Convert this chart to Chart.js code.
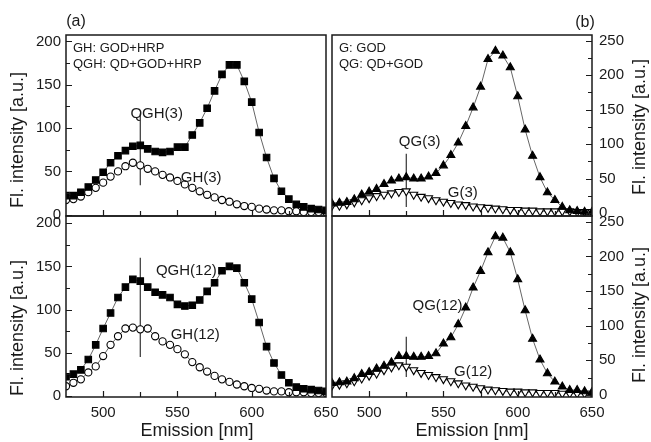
<!DOCTYPE html>
<html>
<head>
<meta charset="utf-8">
<script src="https://cdn.jsdelivr.net/npm/chart.js@4.4.1/dist/chart.umd.min.js"></script>
<style>
  html, body { margin: 0; padding: 0; background: #fff; }
  #wrap { position: relative; width: 651px; height: 442px; }
  #wrap canvas { position: absolute; left: 0; top: 0; }
</style>
</head>
<body>
<div id="wrap">
  <canvas id="topA" width="651" height="442"></canvas>
  <canvas id="topB" width="651" height="442"></canvas>
  <canvas id="botA" width="651" height="442"></canvas>
  <canvas id="botB" width="651" height="442"></canvas>
</div>
<script>
// emission wavelengths (nm)
const wavelengths = [475, 480, 485, 490, 495, 500, 505, 510, 515, 520, 525, 530,
  535, 540, 545, 550, 555, 560, 565, 570, 575, 580, 585, 590,
  595, 600, 605, 610, 615, 620, 625, 630, 635, 640, 645, 650];

// (a) GOD+HRP, 3 and 12
const qgh3 = [22, 22, 26, 32, 40, 49, 60, 68, 74, 79, 80, 76,
  73, 72, 73, 78, 78, 92, 106, 123, 143, 162, 173, 173,
  154, 130, 95, 66, 42, 27, 18, 12, 9, 7, 6, 5];
const gh3 = [17, 18, 21, 26, 31, 37, 44, 50, 56, 60, 57, 53,
  50, 46, 43, 39, 35, 31, 27, 23, 20, 17, 15, 12,
  10, 9, 7, 6, 5, 5, 4, 4, 3, 3, 3, 3];
const qgh12 = [22, 25, 30, 42, 59, 78, 96, 114, 126, 135, 133, 126,
  120, 117, 114, 106, 104, 105, 111, 121, 131, 145, 150, 148,
  131, 112, 85, 57, 38, 24, 15, 10, 8, 7, 6, 5];
const gh12 = [11, 15, 19, 27, 34, 46, 59, 69, 78, 79, 77, 78,
  69, 63, 59, 54, 48, 39, 33, 28, 23, 19, 16, 13,
  11, 9, 8, 6, 5, 5, 4, 4, 4, 3, 3, 3];

// (b) GOD, 3 and 12
const qg3 = [14, 15, 16, 20, 27, 31, 35, 42, 47, 50, 52, 50,
  50, 53, 58, 69, 84, 102, 126, 153, 183, 223, 235, 228,
  211, 169, 121, 83, 52, 30, 19, 9, 4, 3, 2, 2];
const g3 = [11, 11, 13, 16, 19, 22, 25, 27, 29, 31, 32, 27,
  24, 22, 19, 17, 15, 13, 12, 10, 9, 8, 7, 6,
  5, 5, 4, 4, 3, 3, 3, 3, 3, 2, 2, 2];
const qg12 = [17, 18, 19, 24, 30, 33, 38, 42, 47, 56, 56, 55,
  55, 56, 60, 74, 83, 102, 126, 155, 179, 206, 229, 227,
  206, 167, 122, 81, 51, 31, 19, 12, 7, 7, 5, 4];
const g12 = [14, 15, 17, 20, 24, 28, 31, 36, 40, 43, 41, 36,
  32, 29, 26, 23, 20, 17, 14, 12, 10, 8, 7, 6,
  5, 5, 4, 4, 3, 3, 3, 2, 2, 2, 2, 2];

// axis ticks
const xTickLabels = [500, 550, 600, 650];
const xTickMarks = [500, 525, 550, 575, 600, 625];
const yTicksA = [0, 50, 100, 150, 200];
const yTicksB = [0, 50, 100, 150, 200, 250];
const yMarksA = [0, 25, 50, 75, 100, 125, 150, 175, 200];
const yMarksB = [0, 25, 50, 75, 100, 125, 150, 175, 200, 225, 250];

const FONT = "'Liberation Sans', Arial, sans-serif";
const INK = '#1a1a1a';
const W = 651, H = 442;

function pts(ys) {
  return wavelengths.map((x, i) => ({ x: x, y: ys[i] }));
}

function series(ys, style, filled, rotation) {
  return {
    data: pts(ys),
    showLine: true,
    borderColor: '#666',
    borderWidth: 1,
    pointStyle: style,
    pointRotation: rotation || 0,
    pointRadius: style === 'rect' ? 4.6 : (style === 'circle' ? 3.6 : 4.6),
    pointBorderWidth: 1.1,
    pointBorderColor: '#000',
    pointBackgroundColor: filled ? '#000' : '#fff'
  };
}

function marker(y0, y1) {
  return {
    data: [{ x: 525, y: y0 }, { x: 525, y: y1 }],
    showLine: true,
    borderColor: '#333',
    borderWidth: 1.2,
    pointRadius: 0
  };
}

// frame, inward ticks and text for one panel
const panelDecor = {
  id: 'panelDecor',
  afterDatasetsDraw(chart, args, o) {
    const { ctx, chartArea: a, scales: { x, y } } = chart;
    ctx.save();
    ctx.strokeStyle = INK;
    ctx.lineWidth = 1.2;
    ctx.beginPath();
    xTickMarks.forEach(v => {
      const px = Math.round(x.getPixelForValue(v)) + 0.5;
      const len = v % 50 === 0 ? 6 : 5;
      ctx.moveTo(px, a.bottom);
      ctx.lineTo(px, a.bottom - len);
    });
    o.yMarks.forEach(v => {
      const py = Math.round(y.getPixelForValue(v)) + 0.5;
      const len = v % 50 === 0 ? 6 : 4;
      if (o.side === 'left') {
        ctx.moveTo(a.left, py);
        ctx.lineTo(a.left + len, py);
      } else {
        ctx.moveTo(a.right, py);
        ctx.lineTo(a.right - len, py);
      }
    });
    ctx.stroke();

    ctx.lineWidth = 1.5;
    ctx.strokeRect(a.left, a.top, a.right - a.left, a.bottom - a.top);

    ctx.fillStyle = INK;
    ctx.textBaseline = 'middle';
    ctx.textAlign = 'center';
    ctx.font = '15px ' + FONT;
    o.notes.forEach(n => {
      ctx.fillText(n.text, x.getPixelForValue(n.x), y.getPixelForValue(n.y));
    });

    ctx.textAlign = 'left';
    ctx.font = '13px ' + FONT;
    o.legend.forEach((t, i) => {
      ctx.fillText(t, a.left + 7, a.top + 13 + i * 16);
    });

    if (o.tag) {
      ctx.font = '16px ' + FONT;
      ctx.textAlign = 'center';
      ctx.fillText(o.tag.text, o.tag.px, o.tag.py);
    }

    ctx.font = '18px ' + FONT;
    ctx.textAlign = 'center';
    ctx.save();
    ctx.translate(o.yTitle.px, o.yTitle.py);
    ctx.rotate(-Math.PI / 2);
    ctx.fillText('Fl. intensity [a.u.]', 0, 0);
    ctx.restore();
    if (o.xTitle) {
      ctx.fillText('Emission [nm]', o.xTitle.px, o.xTitle.py);
    }
    ctx.restore();
  }
};

function makePanel(id, p) {
  const [left, right, top, bottom] = p.box;
  const side = p.decor.side;
  // the axis boxes fill the margins so their labels are not clipped
  const yWidth = side === 'left' ? left : W - right;
  const ctx = document.getElementById(id).getContext('2d');
  return new Chart(ctx, {
    type: 'scatter',
    data: { datasets: p.datasets },
    options: {
      responsive: false,
      animation: false,
      events: [],
      layout: {
        padding: {
          left: side === 'left' ? 0 : left,
          right: side === 'left' ? W - right : 0,
          top: top,
          bottom: 0
        }
      },
      plugins: {
        legend: { display: false },
        tooltip: { enabled: false },
        panelDecor: p.decor
      },
      scales: {
        x: {
          type: 'linear',
          min: 475,
          max: 650,
          grid: { display: false, drawTicks: false },
          border: { display: false },
          afterFit: s => { s.height = H - bottom; },
          afterBuildTicks: s => { s.ticks = xTickLabels.map(v => ({ value: v })); },
          ticks: {
            display: p.xLabels,
            padding: 7,
            maxRotation: 0,
            autoSkip: false,
            color: INK,
            font: { family: FONT, size: 15 }
          }
        },
        y: {
          type: 'linear',
          position: side,
          min: p.yRange[0],
          max: p.yRange[1],
          grid: { display: false, drawTicks: false },
          border: { display: false },
          afterFit: s => { s.width = yWidth; },
          afterBuildTicks: s => { s.ticks = p.yTicks.map(v => ({ value: v })); },
          ticks: {
            padding: side === 'left' ? 5 : 7,
            autoSkip: false,
            color: INK,
            font: { family: FONT, size: 15 }
          }
        }
      }
    },
    plugins: [panelDecor]
  });
}

makePanel('topA', {
  box: [66, 326, 35, 216],
  yRange: [-1.5, 207.5],
  yTicks: yTicksA,
  xLabels: false,
  datasets: [series(qgh3, 'rect', true), series(gh3, 'circle', false), marker(34, 117)],
  decor: {
    side: 'left',
    yMarks: yMarksA,
    notes: [{ text: 'QGH(3)', x: 536, y: 116 }, { text: 'GH(3)', x: 566, y: 43 }],
    legend: ['GH: GOD+HRP', 'QGH: QD+GOD+HRP'],
    tag: { text: '(a)', px: 76, py: 22 },
    yTitle: { px: 18, py: 140 }
  }
});

makePanel('topB', {
  box: [332, 592, 35, 216],
  yRange: [-4, 258],
  yTicks: yTicksB,
  xLabels: false,
  datasets: [series(qg3, 'triangle', true), series(g3, 'triangle', false, 180), marker(9, 86)],
  decor: {
    side: 'right',
    yMarks: yMarksB,
    notes: [{ text: 'QG(3)', x: 534, y: 104 }, { text: 'G(3)', x: 563, y: 30 }],
    legend: ['G: GOD', 'QG: QD+GOD'],
    tag: { text: '(b)', px: 585, py: 23 },
    yTitle: { px: 640, py: 127 }
  }
});

makePanel('botA', {
  box: [66, 326, 216, 397],
  yRange: [-1.5, 208.5],
  yTicks: yTicksA,
  xLabels: true,
  datasets: [series(qgh12, 'rect', true), series(gh12, 'circle', false), marker(45, 160)],
  decor: {
    side: 'left',
    yMarks: yMarksA,
    notes: [{ text: 'QGH(12)', x: 556, y: 145 }, { text: 'GH(12)', x: 562, y: 71 }],
    legend: [],
    yTitle: { px: 18, py: 328 },
    xTitle: { px: 197, py: 431 }
  }
});

makePanel('botB', {
  box: [332, 592, 216, 397],
  yRange: [-3, 258.5],
  yTicks: yTicksB,
  xLabels: true,
  datasets: [series(qg12, 'triangle', true), series(g12, 'triangle', false, 180), marker(26, 84)],
  decor: {
    side: 'right',
    yMarks: yMarksB,
    notes: [{ text: 'QG(12)', x: 546, y: 128 }, { text: 'G(12)', x: 570, y: 33 }],
    legend: [],
    yTitle: { px: 640, py: 315 },
    xTitle: { px: 472, py: 431 }
  }
});
</script>
</body>
</html>
